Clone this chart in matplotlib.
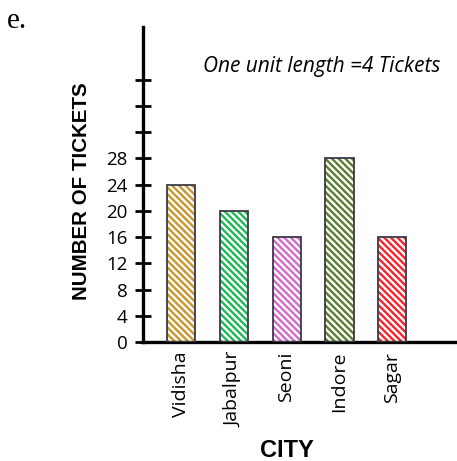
import matplotlib.pyplot as plt
import numpy as np

cities = ["Vidisha", "Jabalpur", "Seoni", "Indore", "Sagar"]
tickets = [24, 20, 16, 28, 16]
colors = ["#c8962e", "#1db954", "#d46ac8", "#5b7d34", "#f5232a"]
ytick_vals = [0, 4, 8, 12, 16, 20, 24, 28, 32, 36, 40]
ytick_labels = ["0", "4", "8", "12", "16", "20", "24", "28", "", "", ""]

plt.rcParams['hatch.linewidth'] = 1.7

fig = plt.figure(figsize=(4.57, 4.61), dpi=100)
ax = fig.add_axes([0.312, 0.258, 0.688, 0.683])

x = np.arange(len(cities))
# hatched fill, then a dark outline on top
ax.bar(x, tickets, width=0.53, color="white", edgecolor=colors, hatch="\\" * 5, linewidth=0, zorder=2)
ax.bar(x, tickets, width=0.53, fill=False, edgecolor="#3a3a48", linewidth=1.3, zorder=3)

ax.set_xlim(-0.72, 5.22)
ax.set_ylim(0, 48)

ax.spines['top'].set_visible(False)
ax.spines['right'].set_visible(False)
ax.spines['left'].set_linewidth(2.4)
ax.spines['bottom'].set_linewidth(2.4)

ax.set_yticks(ytick_vals)
ax.set_yticklabels(ytick_labels, fontfamily="Open Sans", fontsize=13.5)
ax.tick_params(axis='y', direction='inout', length=12, width=2, pad=5)
ax.set_xticks(x)
ax.set_xticklabels(cities, rotation=90, fontfamily="Open Sans", fontsize=14)
ax.tick_params(axis='x', length=0, pad=7)

ax.set_ylabel("NUMBER OF TICKETS", fontfamily="Liberation Sans", fontweight="bold", fontsize=14.8)
ax.yaxis.set_label_coords(-0.165, 0.48)
ax.text(2, -0.345, "CITY", transform=ax.get_xaxis_transform(), ha="center", va="center",
        fontfamily="Liberation Sans", fontweight="bold", fontsize=17)

fig.text(0.705, 0.855, "One unit length =4 Tickets", ha="center", va="center",
         fontfamily="Open Sans", style="italic", fontsize=15)
fig.text(0.016, 0.955, "e.", ha="left", va="center", fontfamily="Liberation Serif", fontsize=21)

fig.savefig("out.png", dpi=100)
